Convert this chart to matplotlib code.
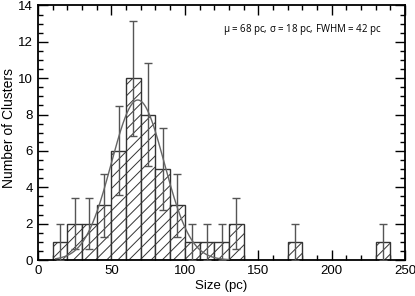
import matplotlib
matplotlib.use('Agg')
import matplotlib.pyplot as plt
import numpy as np


# histogram of cluster sizes (bin left edges, width 10 pc)
bin_left = [10, 20, 30, 40, 50, 60, 70, 80, 90, 100, 110, 120, 130, 170, 230]
counts   = [1, 2, 2, 3, 6, 10, 8, 5, 3, 1, 1, 1, 2, 1, 1]
bin_width = 10

# gaussian fit parameters
mu, sigma, peak = 68.0, 18.0, 8.8

plt.rcParams['font.family'] = ['Liberation Sans', 'DejaVu Sans']
plt.rcParams['hatch.color'] = '#808080'
plt.rcParams['hatch.linewidth'] = 0.7

fig = plt.figure(figsize=(4.15, 2.96), dpi=100)
ax = fig.add_axes([0.0916, 0.1216, 0.8844, 0.86])

centers = np.array(bin_left) + bin_width / 2
counts = np.array(counts)

ax.bar(bin_left, counts, width=bin_width, align='edge', facecolor='white',
       edgecolor='#333333', linewidth=1.0, hatch='///', zorder=2)

err = np.sqrt(counts)
ax.errorbar(centers, counts, yerr=err, fmt='none', ecolor='#555555',
            elinewidth=1.0, capsize=3, capthick=1.0, zorder=3)

xg = np.linspace(12, 130, 300)
ax.plot(xg, peak * np.exp(-0.5 * ((xg - mu) / sigma) ** 2), color='#666666',
        lw=1.0, zorder=4)

ax.text(0.935, 0.905, r'$\mathregular{\mu}$ = 68 pc, $\mathregular{\sigma}$ = 18 pc, FWHM = 42 pc',
        transform=ax.transAxes, ha='right', va='center', fontsize=7,
        family=['Open Sans', 'DejaVu Sans'])

ax.set_xlim(0, 250)
ax.set_ylim(0, 14)
ax.set_xticks(np.arange(0, 251, 50))
ax.set_xticks(np.arange(0, 251, 10), minor=True)
ax.set_yticks(np.arange(0, 15, 2))
ax.set_yticks(np.arange(0, 14.1, 0.5), minor=True)
ax.tick_params(which='both', direction='in', top=True, right=True, labelsize=9.5,
               width=1.0, color='black')
ax.tick_params(which='major', length=7)
ax.tick_params(which='minor', length=3.5)
for s in ax.spines.values():
    s.set_linewidth(1.3)

ax.set_xlabel('Size (pc)', fontsize=9.5, labelpad=2)
ax.set_ylabel('Number of Clusters', fontsize=10)
ax.yaxis.set_label_coords(-0.06, 0.52)

fig.savefig('out.png', dpi=100)
